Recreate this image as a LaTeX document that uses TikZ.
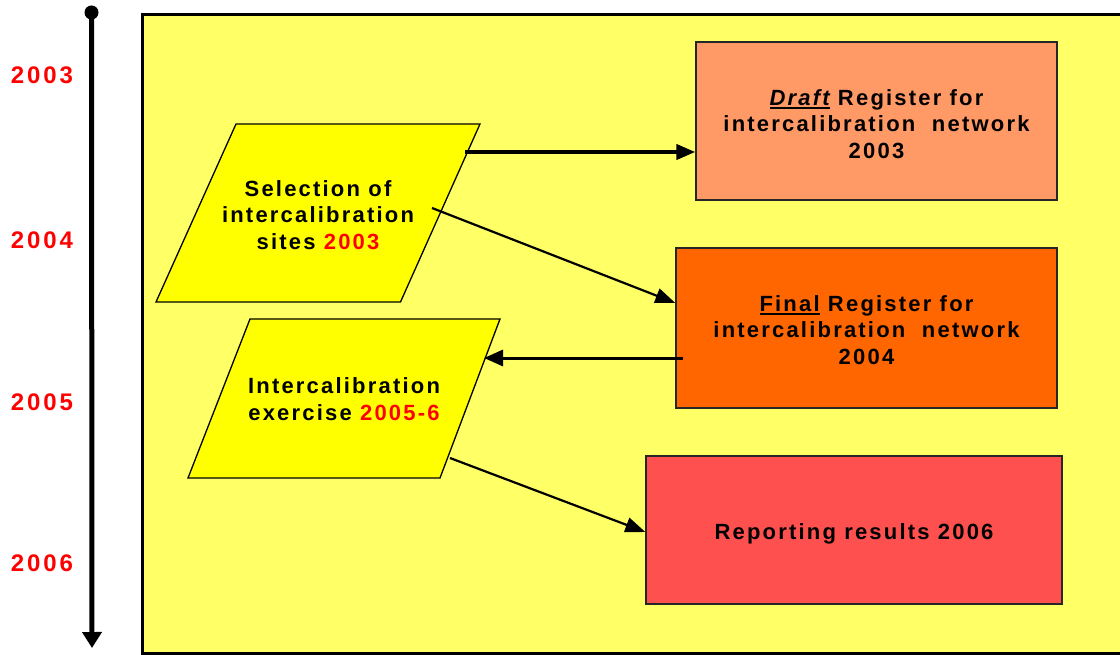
\documentclass[tikz,border=0pt]{standalone}
\usepackage{fontspec}
\setmainfont{Liberation Sans}
\newfontfamily\spaced[LetterSpace=10]{Liberation Sans}
\newfontfamily\yearfont[LetterSpace=12]{Liberation Sans}
\usetikzlibrary{arrows.meta,calc}
\definecolor{pageyellow}{HTML}{FFFF66}
\definecolor{stepyellow}{HTML}{FFFF00}
\definecolor{draftfill}{HTML}{FF9966}
\definecolor{finalfill}{HTML}{FF6600}
\definecolor{reportfill}{HTML}{FF5050}
\definecolor{yearred}{HTML}{FF0000}
% underline drawn as a rule below the baseline
\newcommand{\undl}[1]{{\setbox0\hbox{#1}\rlap{\rule[-3.2pt]{\wd0}{1.8pt}}\box0}}
\begin{document}
\begin{tikzpicture}[x=1pt,y=-1pt,
  boxtext/.style={font={\spaced\bfseries\fontsize{22}{26.5}\selectfont}, align=center, text=black},
  regbox/.style={draw=black!85, line width=1.3pt, inner sep=0pt},
  para/.style={draw=black, line width=1.3pt, fill=stepyellow},
  year/.style={font={\yearfont\bfseries\fontsize{24}{28}\selectfont}, text=yearred},
  link/.style={draw=black, line width=2.2pt, -{Triangle[length=20pt,width=15pt]}}
]
\useasboundingbox (0,0) rectangle (1120,655);
\clip (0,0) rectangle (1120,655);

% page background
\draw[fill=pageyellow, line width=3pt] (142,14.5) rectangle (1130,653);

% time axis
\node[circle, fill=black, inner sep=0pt, minimum size=14pt] (start) at (91.5,12.5) {};
\coordinate (end) at (92,648);
\draw[line width=5pt, -{Triangle[length=16pt,width=19pt]}] (start.center) -- (end);

\node[year] (y3) at (42,75) {2003};
\node[year] (y4) at (42,240) {2004};
\node[year] (y5) at (42,402) {2005};
\node[year] (y6) at (42,563) {2006};

% process steps
\path[para] (236,124) -- (480,124) -- (400.5,302) -- (156,302) -- cycle;
\node[boxtext] (sel) at (318,215) {Selection of\\intercalibration\\sites \textcolor{yearred}{2003}};

\path[para] (250,319) -- (500,319) -- (440,478) -- (188,478) -- cycle;
\node[boxtext] (exer) at (344,399) {Intercalibration\\exercise \textcolor{yearred}{2005-6}};

% registers and report
\node[regbox, fill=draftfill, minimum width=361pt, minimum height=158pt] (draft) at (876.5,121) {};
\node[boxtext] (draftlbl) at ($(draft)+(0,3)$)
  {\undl{\itshape Draft} Register for\\intercalibration\ \ network\\2003};
\node[regbox, fill=finalfill, minimum width=381pt, minimum height=160pt] (final) at (866.5,328) {};
\node[boxtext] (finallbl) at ($(final)+(0,2)$)
  {\undl{Final} Register for\\intercalibration\ \ network\\2004};
\node[regbox, fill=reportfill, minimum width=416pt, minimum height=148pt] (report) at (854,530) {};
\node[boxtext] (reportlbl) at ($(report)+(0,4)$) {Reporting results 2006};

% connectors
\draw[link, line width=4pt, -{Triangle[length=19pt,width=15pt]}] ($(sel)+(147,-63)$) -- ($(draft.west)+(0,31)$);
\draw[link] ($(sel)+(114,-7)$) -- ($(final.west)+(0,-25)$);
\draw[link, line width=3pt, -{Triangle[length=19pt,width=16pt]}] ($(final.west)+(8,30)$) -- ($(exer)+(140,-41)$);
\draw[link] ($(exer)+(106,59)$) -- ($(report.west)+(0,2)$);
\end{tikzpicture}
\end{document}
